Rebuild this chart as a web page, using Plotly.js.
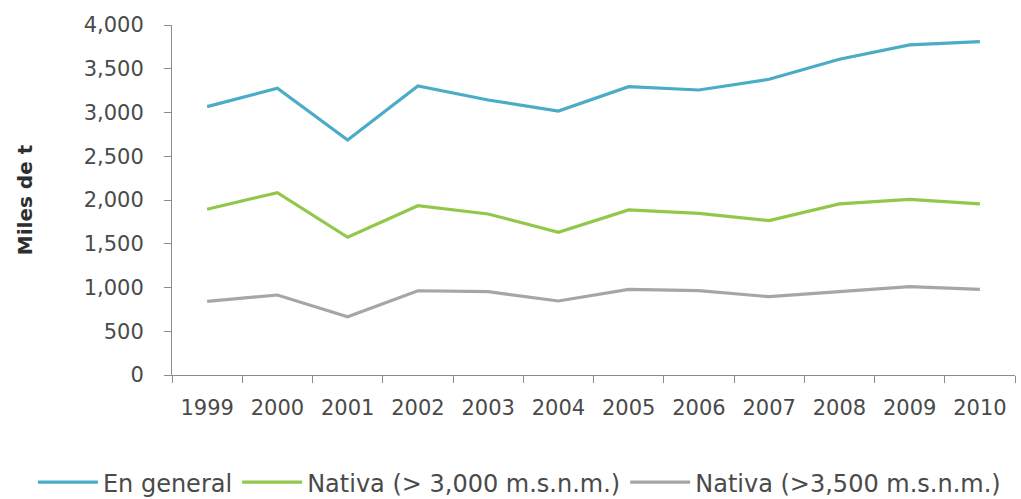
<!DOCTYPE html>
<html>
<head>
<meta charset="utf-8">
<script src="https://cdn.plot.ly/plotly-3.0.1.min.js"></script>
<style>
  html, body { margin: 0; padding: 0; background: #ffffff; }
  #chart { width: 1021px; height: 499px; }
</style>
</head>
<body>
<div id="chart"></div>
<script>
// Producción anual (miles de toneladas), 1999–2010
const years = ['1999', '2000', '2001', '2002', '2003', '2004', '2005', '2006', '2007', '2008', '2009', '2010'];
const enGeneral = [3067, 3277, 2686, 3303, 3143, 3017, 3295, 3257, 3380, 3608, 3772, 3810];
const nativa3000 = [1894, 2084, 1574, 1935, 1840, 1631, 1886, 1848, 1764, 1955, 2008, 1955];
const nativa3500 = [842, 914, 666, 963, 952, 846, 979, 964, 895, 952, 1009, 979];
const seriesNames = ['En general', 'Nativa (> 3,000 m.s.n.m.)', 'Nativa (>3,500 m.s.n.m.)'];
const yTicks = [0, 500, 1000, 1500, 2000, 2500, 3000, 3500, 4000];

const font = 'DejaVu Sans, sans-serif';
const textColor = '#4a4a4a';
const axisColor = '#8c8c8c';

const mk = (name, y, color) => ({
  type: 'scatter',
  mode: 'lines',
  x: years,
  y: y,
  name: name,
  line: { color: color, width: 3.2 },
  hoverinfo: 'x+y+name'
});

const data = [
  mk(seriesNames[0], enGeneral, '#4bacc6'),
  mk(seriesNames[1], nativa3000, '#92c84a'),
  mk(seriesNames[2], nativa3500, '#a6a6a6')
];

const layout = {
  width: 1021,
  height: 499,
  margin: { l: 172, r: 6, t: 25, b: 124, autoexpand: false },
  paper_bgcolor: '#ffffff',
  plot_bgcolor: '#ffffff',
  font: { family: font, size: 20, color: textColor },
  showlegend: true,
  legend: {
    orientation: 'h',
    x: -0.165,
    xanchor: 'left',
    y: -0.243,
    yanchor: 'top',
    font: { family: font, size: 24, color: textColor },
    itemwidth: 60,
    tracegroupgap: 0,
    bgcolor: 'rgba(0,0,0,0)'
  },
  xaxis: {
    type: 'category',
    range: [-0.5, 11.5],
    tickson: 'boundaries',
    ticks: 'outside',
    ticklen: 7,
    tickcolor: axisColor,
    showline: true,
    linecolor: axisColor,
    linewidth: 1,
    showgrid: false,
    zeroline: false,
    ticklabelstandoff: 14,
    tickfont: { family: font, size: 21, color: textColor }
  },
  yaxis: {
    range: [0, 4000],
    tickvals: yTicks,
    tickformat: ',d',
    ticks: 'outside',
    ticklen: 7,
    tickcolor: axisColor,
    showline: true,
    linecolor: axisColor,
    linewidth: 1,
    showgrid: false,
    zeroline: false,
    ticklabelstandoff: 16,
    tickfont: { family: font, size: 21, color: textColor },
    title: {
      text: 'Miles de t',
      font: { family: 'DejaVu Sans, sans-serif', size: 20, color: '#2e2e2e', weight: 'bold' },
      standoff: 45
    }
  }
};

Plotly.newPlot('chart', data, layout, { displayModeBar: false, staticPlot: true });
</script>
</body>
</html>
